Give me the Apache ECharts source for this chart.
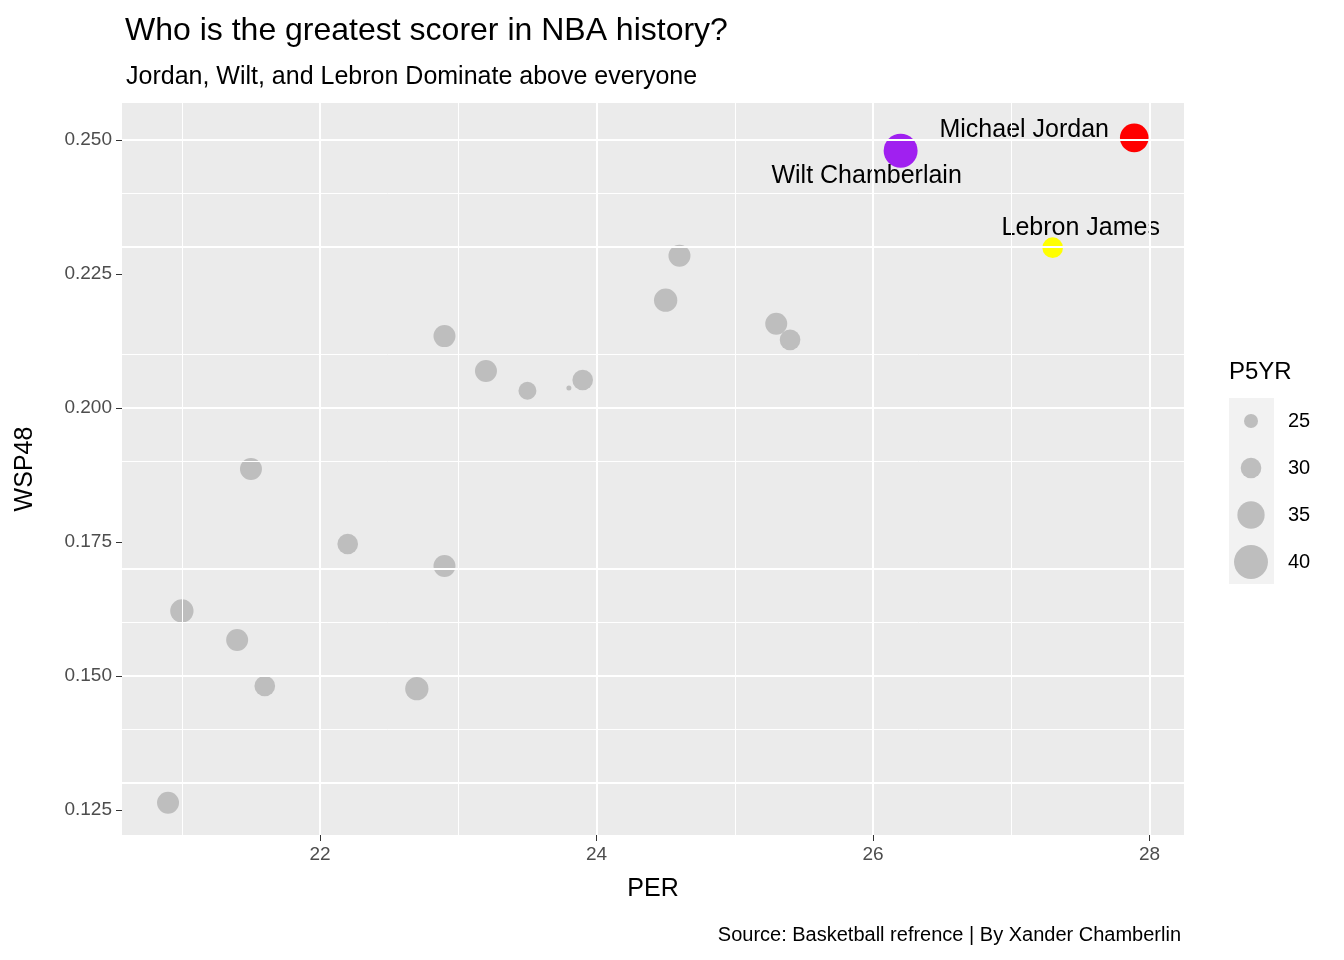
<!DOCTYPE html>
<html>
<head>
<meta charset="UTF-8">
<script src="https://cdn.jsdelivr.net/npm/echarts@6/dist/echarts.min.js"></script>
<style>body{margin:0}#main{width:1344px;height:960px}</style>
</head>
<body>
<div id="main"></div>
<script>
var players = ['Michael Jordan', 'Wilt Chamberlain', 'Lebron James'];
var starPER = [27.89, 26.2, 27.3];
var starWS = [0.2504, 0.248, 0.2299];
var starP5 = [36, 40, 30];
var starColor = ['#ff0000', '#a020f0', '#ffff00'];
var starOffset = [[-110, -8], [-34, 25], [28, -20]];

var otherPER = [24.6, 24.5, 25.3, 25.4, 22.9, 23.2, 23.5, 23.8, 23.9, 21.5, 22.2, 22.9, 21.0, 21.4, 21.6, 22.7, 20.9];
var otherWS = [0.2284, 0.2201, 0.2157, 0.2127, 0.2134, 0.2069, 0.2032, 0.2037, 0.2052, 0.1886, 0.1746, 0.1705, 0.1621, 0.1567, 0.1481, 0.1476, 0.1263];
var otherP5 = [31, 32, 31, 30, 31, 31, 28, 18, 30, 31, 30, 31, 32, 31, 30, 32, 31];

var legendVals = [25, 30, 35, 40];
var xTicks = [22, 24, 26, 28];
var xGrid = [21, 22, 23, 24, 25, 26, 27, 28];
var yTicks = [0.125, 0.15, 0.175, 0.2, 0.225, 0.25];
var yGrid = [0.125, 0.1375, 0.15, 0.1625, 0.175, 0.1875, 0.2, 0.2125, 0.225, 0.2375, 0.25];

function dia(v) { return Math.max(5, 14 + (v - 25) * 1.33); }

var chart = echarts.init(document.getElementById('main'));
var font = 'Arial, Liberation Sans, sans-serif';

var legendGraphics = [
  { type: 'text', left: 1229, top: 360, style: { text: 'P5YR', font: '24px ' + font, fill: '#000' } },
  { type: 'rect', shape: { x: 1229, y: 398, width: 45, height: 186 }, style: { fill: '#f2f2f2' } }
];
legendVals.forEach(function (v, i) {
  var cy = 421 + i * 47;
  legendGraphics.push({ type: 'circle', shape: { cx: 1251, cy: cy, r: dia(v) / 2 }, style: { fill: '#bebebe' } });
  legendGraphics.push({ type: 'text', x: 1288, y: cy, style: { text: String(v), font: '20px ' + font, fill: '#000', textVerticalAlign: 'middle' } });
});

var gridLines = yGrid.map(function (v, i) {
  return { yAxis: v, lineStyle: { color: '#fff', type: 'solid', width: i % 2 === 0 ? 2 : 1 } };
}).concat(xGrid.map(function (v) {
  return { xAxis: v, lineStyle: { color: '#fff', type: 'solid', width: v % 2 === 0 ? 2 : 1 } };
}));

chart.setOption({
  animation: false,
  backgroundColor: '#fff',
  title: [
    { text: 'Who is the greatest scorer in NBA history?', left: 120, top: 10, textStyle: { fontFamily: font, fontSize: 32, fontWeight: 'normal', color: '#000' } },
    { text: 'Jordan, Wilt, and Lebron Dominate above everyone', left: 121, top: 60, textStyle: { fontFamily: font, fontSize: 25, fontWeight: 'normal', color: '#000' } },
    { text: 'Source: Basketball refrence | By Xander Chamberlin', right: 158, top: 920, textStyle: { fontFamily: font, fontSize: 20, fontWeight: 'normal', color: '#000' } }
  ],
  grid: { left: 122, top: 103, width: 1062, height: 732, backgroundColor: '#ebebeb', show: true, borderWidth: 0 },
  xAxis: {
    type: 'value', min: 20.567, max: 28.25,
    name: 'PER', nameLocation: 'middle', nameGap: 42,
    nameTextStyle: { fontFamily: font, fontSize: 25, color: '#000' },
    axisLine: { show: false },
    axisTick: { show: true, length: 6, lineStyle: { color: '#333' }, customValues: xTicks },
    axisLabel: { fontFamily: font, fontSize: 19, color: '#4d4d4d', margin: 10, customValues: xTicks },
    splitLine: { show: false }
  },
  yAxis: {
    type: 'value', min: 0.1203, max: 0.2569,
    name: 'WSP48', nameLocation: 'middle', nameGap: 84,
    nameTextStyle: { fontFamily: font, fontSize: 25, color: '#000' },
    axisLine: { show: false },
    axisTick: { show: true, length: 6, lineStyle: { color: '#333' }, customValues: yTicks },
    axisLabel: { fontFamily: font, fontSize: 19, color: '#4d4d4d', margin: 10, customValues: yTicks,
      formatter: function (v) { return v.toFixed(3); } },
    splitLine: { show: false }
  },
  graphic: legendGraphics,
  series: [
    {
      type: 'line', silent: true, data: [], symbol: 'none',
      markLine: { symbol: 'none', silent: true, label: { show: false }, data: gridLines }
    },
    {
      type: 'scatter',
      data: otherPER.map(function (x, i) { return [x, otherWS[i], otherP5[i]]; }),
      symbolSize: function (d) { return dia(d[2]); },
      itemStyle: { color: '#bebebe', opacity: 1 }
    },
    {
      type: 'scatter',
      data: players.map(function (p, i) {
        return {
          value: [starPER[i], starWS[i], starP5[i]],
          itemStyle: { color: starColor[i], opacity: 1 },
          label: { show: true, formatter: p, position: 'inside', offset: starOffset[i],
            fontFamily: font, fontSize: 25, color: '#000', textBorderWidth: 0 }
        };
      }),
      symbolSize: function (d) { return dia(d[2]); }
    }
  ]
});
</script>
</body>
</html>
